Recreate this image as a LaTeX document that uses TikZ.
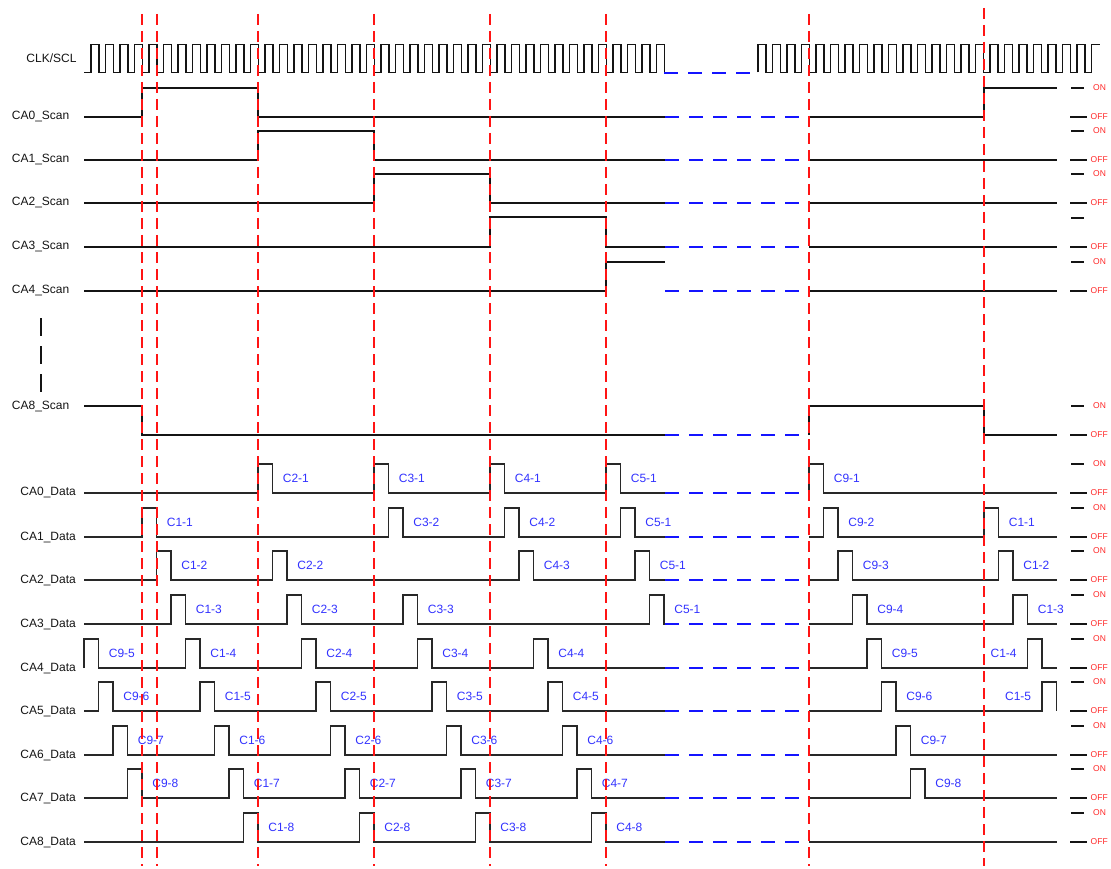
\documentclass[tikz,border=0pt]{standalone}
\usepackage{fontspec}
\setmainfont{Liberation Sans}
\usepackage{xcolor}
\usepackage{tikz}
\usetikzlibrary{positioning}
\definecolor{sigBlack}{RGB}{20,20,20}
\definecolor{sigGray}{RGB}{40,40,40}
\definecolor{cutRed}{RGB}{255,20,20}
\definecolor{gapBlue}{RGB}{20,20,255}
\definecolor{cellBlue}{RGB}{50,50,255}
\definecolor{lvlRed}{RGB}{255,40,40}

\tikzset{
    clkline/.style={sigBlack, line width=1.4pt},
    scanline/.style={sigBlack, line width=2pt},
    dataline/.style={sigGray, line width=1.8pt},
    gapline/.style={gapBlue, line width=1.8pt, dash pattern=on 14pt off 10pt},
    cutline/.style={cutRed, line width=1.7pt, dash pattern=on 11pt off 6pt},
    rowlabel/.style={anchor=east, inner sep=0pt, text=sigBlack, font=\fontsize{12}{14}\selectfont},
    celllabel/.style={anchor=west, inner sep=0pt, xshift=9.5pt, yshift=-14.5pt, text=cellBlue, font=\fontsize{12}{14}\selectfont},
    cellleft/.style={anchor=east, inner sep=0pt, xshift=-10pt, yshift=-14.5pt, text=cellBlue, font=\fontsize{12}{14}\selectfont},
    lvlmark/.style={sigBlack, line width=2pt},
    lvllabel/.style={anchor=west, inner sep=0pt, text=lvlRed, font=\fontsize{8.5}{10}\selectfont}
}

\begin{document}
\begin{tikzpicture}[x=1pt,y=-1pt]
    \useasboundingbox (0,0) rectangle (1111,869);

    % =========================
    % Clock
    % =========================
    \node[rowlabel] (clk) at (76.7,58) {CLK/SCL};
    \draw[clkline] (84,72.5) \foreach \k in {0,...,39}
        { -- ({91+14.5*\k},72.5) -- ++(0,-28) -- ++(7.8,0) -- ++(0,28) };
    \draw[gapline] (664,73) -- (758,73);
    \draw[clkline] (758,72.5) \foreach \k in {46,...,68}
        { -- ({91+14.5*\k},72.5) -- ++(0,-28) -- ++(7.8,0) -- ++(0,28) }
        -- (1091.5,72.5) -- (1091.5,44.5) -- (1100,44.5);

    % =========================
    % Scan lines
    % =========================
    % CA0_Scan
    \node[rowlabel] (s0) at (69.5,117) {CA0\_Scan};
    \draw[scanline] (84,117) -- (142,117) -- (142,88) -- (258,88) -- (258,117) -- (665,117);
    \draw[gapline] (665,117) -- (809,117);
    \draw[scanline] (809,117) -- (984,117) -- (984,88) -- (1057,88);

    % CA1_Scan
    \node[rowlabel] (s1) at (69.5,160) {CA1\_Scan};
    \draw[scanline] (84,160) -- (258,160) -- (258,131) -- (374,131) -- (374,160) -- (665,160);
    \draw[gapline] (665,160) -- (809,160);
    \draw[scanline] (809,160) -- (1057,160);

    % CA2_Scan
    \node[rowlabel] (s2) at (69.5,203) {CA2\_Scan};
    \draw[scanline] (84,203) -- (374,203) -- (374,174) -- (490,174) -- (490,203) -- (665,203);
    \draw[gapline] (665,203) -- (809,203);
    \draw[scanline] (809,203) -- (1057,203);

    % CA3_Scan
    \node[rowlabel] (s3) at (69.5,247) {CA3\_Scan};
    \draw[scanline] (84,247) -- (490,247) -- (490,217) -- (606,217) -- (606,247) -- (665,247);
    \draw[gapline] (665,247) -- (809,247);
    \draw[scanline] (809,247) -- (1057,247);

    % CA4_Scan
    \node[rowlabel] (s4) at (69.5,291) {CA4\_Scan};
    \draw[scanline] (84,291) -- (606,291) -- (606,262) -- (665,262);
    \draw[gapline] (665,291) -- (809,291);
    \draw[scanline] (809,291) -- (1057,291);

    % skipped rows
    \draw[sigBlack, line width=2pt, dash pattern=on 18pt off 10pt] (41,318) -- (41,392);

    % CA8_Scan
    \node[rowlabel] (s8) at (69.5,406.5) {CA8\_Scan};
    \draw[scanline] (84,406) -- (142,406) -- (142,435) -- (665,435);
    \draw[gapline] (665,435) -- (809,435);
    \draw[scanline] (809,435) -- (809,406) -- (984,406) -- (984,435) -- (1057,435);

    % =========================
    % Data lines
    % =========================
    % CA0_Data
    \node[rowlabel] (d0) at (76,493) {CA0\_Data};
    \draw[dataline] (84,493) \foreach \px/\txt [count=\i] in {258/C2-1,374/C3-1,490/C4-1,606/C5-1}
        { -- (\px,493) -- ++(0,-29) -- ++(14.5,0) node[celllabel] (d0a\i) {\txt} -- ++(0,29) } -- (665,493);
    \draw[gapline] (665,493) -- (809,493);
    \draw[dataline] (809,493) \foreach \px/\txt [count=\i] in {809/C9-1}
        { -- (\px,493) -- ++(0,-29) -- ++(14.5,0) node[celllabel] (d0b\i) {\txt} -- ++(0,29) } -- (1057,493);

    % CA1_Data
    \node[rowlabel] (d1) at (76,537) {CA1\_Data};
    \draw[dataline] (84,537) \foreach \px/\txt [count=\i] in {142/C1-1,388.5/C3-2,504.5/C4-2,620.5/C5-1}
        { -- (\px,537) -- ++(0,-29) -- ++(14.5,0) node[celllabel] (d1a\i) {\txt} -- ++(0,29) } -- (665,537);
    \draw[gapline] (665,537) -- (809,537);
    \draw[dataline] (809,537) \foreach \px/\txt [count=\i] in {823.5/C9-2,984/C1-1}
        { -- (\px,537) -- ++(0,-29) -- ++(14.5,0) node[celllabel] (d1b\i) {\txt} -- ++(0,29) } -- (1057,537);

    % CA2_Data
    \node[rowlabel] (d2) at (76,580) {CA2\_Data};
    \draw[dataline] (84,580) \foreach \px/\txt [count=\i] in {156.5/C1-2,272.5/C2-2,519/C4-3,635/C5-1}
        { -- (\px,580) -- ++(0,-29) -- ++(14.5,0) node[celllabel] (d2a\i) {\txt} -- ++(0,29) } -- (665,580);
    \draw[gapline] (665,580) -- (809,580);
    \draw[dataline] (809,580) \foreach \px/\txt [count=\i] in {838/C9-3,998.5/C1-2}
        { -- (\px,580) -- ++(0,-29) -- ++(14.5,0) node[celllabel] (d2b\i) {\txt} -- ++(0,29) } -- (1057,580);

    % CA3_Data
    \node[rowlabel] (d3) at (76,624) {CA3\_Data};
    \draw[dataline] (84,624) \foreach \px/\txt [count=\i] in {171/C1-3,287/C2-3,403/C3-3,649.5/C5-1}
        { -- (\px,624) -- ++(0,-29) -- ++(14.5,0) node[celllabel] (d3a\i) {\txt} -- ++(0,29) } -- (665,624);
    \draw[gapline] (665,624) -- (809,624);
    \draw[dataline] (809,624) \foreach \px/\txt [count=\i] in {852.5/C9-4,1013/C1-3}
        { -- (\px,624) -- ++(0,-29) -- ++(14.5,0) node[celllabel] (d3b\i) {\txt} -- ++(0,29) } -- (1057,624);

    % CA4_Data
    \node[rowlabel] (d4) at (76,668) {CA4\_Data};
    \draw[dataline] (84,668) \foreach \px/\txt [count=\i] in {84/C9-5,185.5/C1-4,301.5/C2-4,417.5/C3-4,533.5/C4-4}
        { -- (\px,668) -- ++(0,-29) -- ++(14.5,0) node[celllabel] (d4a\i) {\txt} -- ++(0,29) } -- (665,668);
    \draw[gapline] (665,668) -- (809,668);
    \draw[dataline] (809,668) \foreach \px/\txt [count=\i] in {867/C9-5}
        { -- (\px,668) -- ++(0,-29) -- ++(14.5,0) node[celllabel] (d4b\i) {\txt} -- ++(0,29) }
        -- (1027.5,668) -- ++(0,-29) node[cellleft] (d4b2) {C1-4} -- ++(14.5,0) -- ++(0,29) -- (1057,668);

    % CA5_Data
    \node[rowlabel] (d5) at (76,711) {CA5\_Data};
    \draw[dataline] (84,711) \foreach \px/\txt [count=\i] in {98.5/C9-6,200/C1-5,316/C2-5,432/C3-5,548/C4-5}
        { -- (\px,711) -- ++(0,-29) -- ++(14.5,0) node[celllabel] (d5a\i) {\txt} -- ++(0,29) } -- (665,711);
    \draw[gapline] (665,711) -- (809,711);
    \draw[dataline] (809,711) \foreach \px/\txt [count=\i] in {881.5/C9-6}
        { -- (\px,711) -- ++(0,-29) -- ++(14.5,0) node[celllabel] (d5b\i) {\txt} -- ++(0,29) }
        -- (1042,711) -- ++(0,-29) node[cellleft] (d5b2) {C1-5} -- ++(14.5,0) -- ++(0,29);

    % CA6_Data
    \node[rowlabel] (d6) at (76,755) {CA6\_Data};
    \draw[dataline] (84,755) \foreach \px/\txt [count=\i] in {113/C9-7,214.5/C1-6,330.5/C2-6,446.5/C3-6,562.5/C4-6}
        { -- (\px,755) -- ++(0,-29) -- ++(14.5,0) node[celllabel] (d6a\i) {\txt} -- ++(0,29) } -- (665,755);
    \draw[gapline] (665,755) -- (809,755);
    \draw[dataline] (809,755) \foreach \px/\txt [count=\i] in {896/C9-7}
        { -- (\px,755) -- ++(0,-29) -- ++(14.5,0) node[celllabel] (d6b\i) {\txt} -- ++(0,29) } -- (1057,755);

    % CA7_Data
    \node[rowlabel] (d7) at (76,798) {CA7\_Data};
    \draw[dataline] (84,798) \foreach \px/\txt [count=\i] in {127.5/C9-8,229/C1-7,345/C2-7,461/C3-7,577/C4-7}
        { -- (\px,798) -- ++(0,-29) -- ++(14.5,0) node[celllabel] (d7a\i) {\txt} -- ++(0,29) } -- (665,798);
    \draw[gapline] (665,798) -- (809,798);
    \draw[dataline] (809,798) \foreach \px/\txt [count=\i] in {910.5/C9-8}
        { -- (\px,798) -- ++(0,-29) -- ++(14.5,0) node[celllabel] (d7b\i) {\txt} -- ++(0,29) } -- (1057,798);

    % CA8_Data
    \node[rowlabel] (d8) at (76,842) {CA8\_Data};
    \draw[dataline] (84,842) \foreach \px/\txt [count=\i] in {243.5/C1-8,359.5/C2-8,475.5/C3-8,591.5/C4-8}
        { -- (\px,842) -- ++(0,-29) -- ++(14.5,0) node[celllabel] (d8a\i) {\txt} -- ++(0,29) } -- (665,842);
    \draw[gapline] (665,842) -- (809,842);
    \draw[dataline] (809,842) -- (1057,842);

    % =========================
    % ON / OFF levels
    % =========================
    \foreach \yy [count=\i] in {88,131,174,262,406,464,508,551,595,639,682,726,769,813}
    {
        \draw[lvlmark] (1071,\yy) -- (1084,\yy);
        \node[lvllabel] (on\i) at (1093,\yy) {ON};
    }
    \draw[lvlmark] (1071,218) -- (1084,218);
    \foreach \yy [count=\i] in {117,160,203,247,291,435,493,537,580,624,668,711,755,798,842}
    {
        \draw[lvlmark] (1070,\yy) -- (1087,\yy);
        \node[lvllabel] (off\i) at (1090.5,\yy) {OFF};
    }

    % =========================
    % Slot boundaries
    % =========================
    \foreach \xx in {142,157,258,374,490,606,809}
        \draw[cutline] (\xx,14) -- (\xx,866);
    \draw[cutline] (984,8) -- (984,866);

\end{tikzpicture}
\end{document}
